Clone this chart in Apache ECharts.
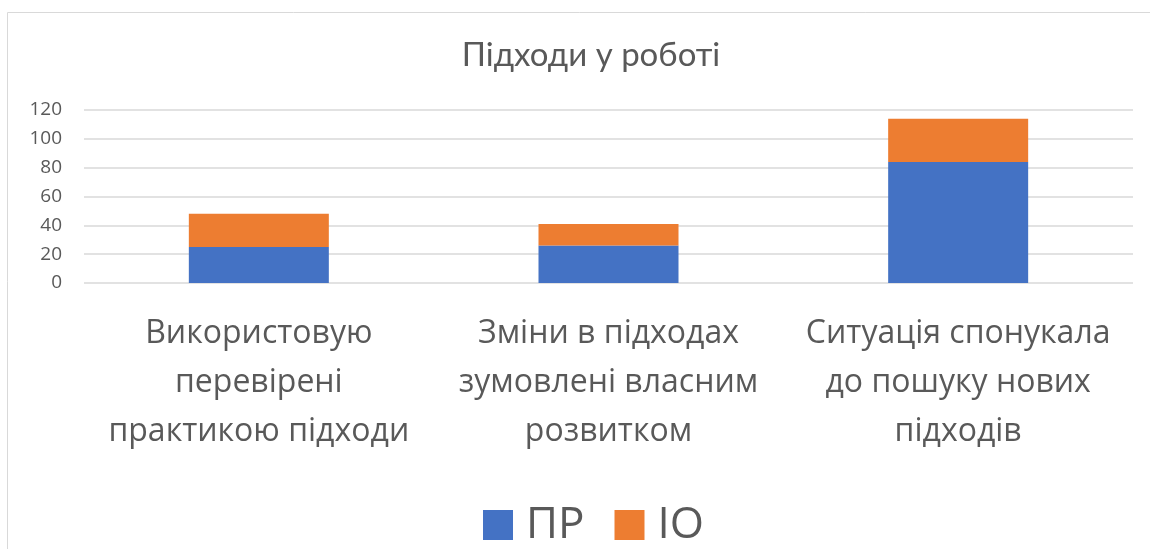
<!DOCTYPE html>
<html>
<head>
<meta charset="utf-8">
<script src="https://cdn.jsdelivr.net/npm/echarts@6/dist/echarts.min.js"></script>
<style>
  html, body { margin: 0; padding: 0; background: #fff; }
  #chart { width: 1150px; height: 549px; }
</style>
</head>
<body>
<div id="chart"></div>
<script>
// дані з діаграми
var categories = [
  'Використовую\nперевірені\nпрактикою підходи',
  'Зміни в підходах\nзумовлені власним\nрозвитком',
  'Ситуація спонукала\nдо пошуку нових\nпідходів'
];
var seriesNames = ['ПР', 'ІО'];
var prValues = [25, 26, 84];
var ioValues = [23, 15, 30];
var yTicks = [0, 20, 40, 60, 80, 100, 120];

var textColor = '#595959';
var chart = echarts.init(document.getElementById('chart'));

var option = {
  animation: false,
  // рамка області діаграми
  graphic: [{
    type: 'rect',
    shape: { x: 7.5, y: 12.5, width: 1200, height: 600 },
    style: { fill: 'none', stroke: '#d9d9d9', lineWidth: 1 },
    silent: true
  }],
  title: {
    text: 'Підходи у роботі',
    left: 586,
    top: 34,
    textAlign: 'center',
    textStyle: {
      fontFamily: 'Lato',
      fontWeight: 'normal',
      fontSize: 33,
      color: textColor
    }
  },
  legend: {
    data: seriesNames,
    bottom: -3,
    left: 478,
    itemWidth: 30,
    itemHeight: 30,
    itemGap: 30,
    icon: 'rect',
    textStyle: {
      fontFamily: 'Open Sans',
      fontSize: 44,
      color: textColor,
      padding: [0, 0, 0, 8]
    }
  },
  grid: {
    left: 84,
    right: 17,
    top: 110,
    bottom: 266
  },
  xAxis: {
    type: 'category',
    data: categories,
    axisLine: { show: false },
    axisTick: { show: false },
    axisLabel: {
      interval: 0,
      margin: 26,
      fontFamily: 'Open Sans',
      fontSize: 32,
      lineHeight: 49,
      color: textColor
    }
  },
  yAxis: {
    type: 'value',
    min: yTicks[0],
    max: yTicks[yTicks.length - 1],
    interval: 20,
    axisLine: { show: false },
    axisTick: { show: false },
    axisLabel: {
      margin: 22,
      fontFamily: 'Open Sans',
      fontSize: 19,
      color: textColor
    },
    splitLine: { lineStyle: { color: '#d9d9d9', width: 1.5 } }
  },
  series: [
    {
      name: seriesNames[0],
      type: 'bar',
      stack: 'total',
      barWidth: 140,
      data: prValues,
      itemStyle: { color: '#4472C4' }
    },
    {
      name: seriesNames[1],
      type: 'bar',
      stack: 'total',
      barWidth: 140,
      data: ioValues,
      itemStyle: { color: '#ED7D31' }
    }
  ]
};

chart.setOption(option);
</script>
</body>
</html>
